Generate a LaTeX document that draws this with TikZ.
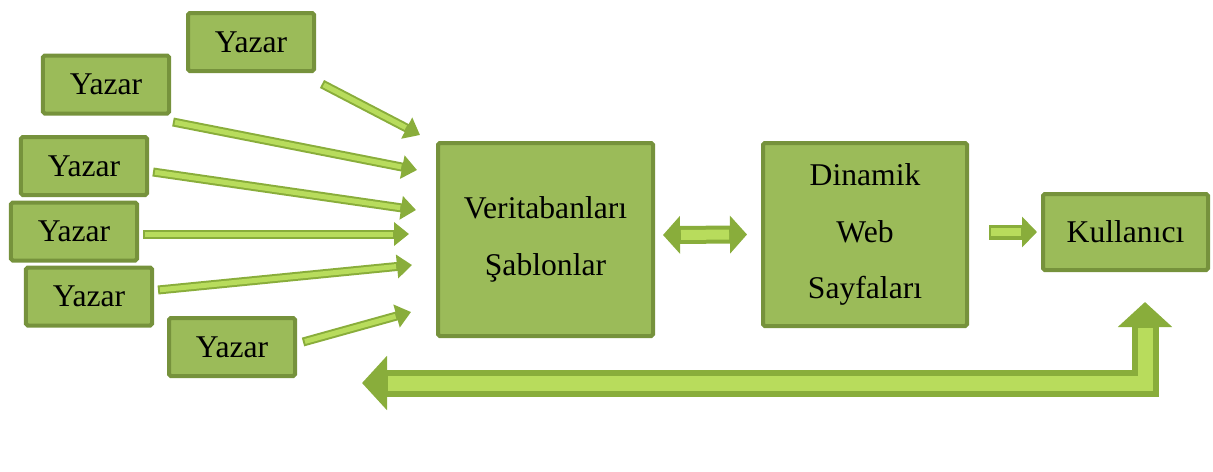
\documentclass[tikz,border=0pt]{standalone}
\usepackage{fontspec}
\setmainfont{Liberation Serif}
\usetikzlibrary{arrows.meta}
\definecolor{boxfill}{HTML}{9BBB59}
\definecolor{boxline}{HTML}{76923C}
\definecolor{arrdark}{HTML}{89AD3B}
\definecolor{arrlight}{HTML}{B8DC5C}

\begin{document}
\begin{tikzpicture}[
    x=0.2mm, y=-0.2mm,
    every node/.style={font=\fontsize{18}{32}\selectfont},
    yazar/.style={draw=boxline,line width=0.8mm,fill=boxfill,rounded corners=1pt,minimum width=25.2mm,minimum height=11.6mm,inner sep=0pt},
    bigbox/.style={draw=boxline,line width=0.8mm,fill=boxfill,rounded corners=1pt,align=center,inner sep=0pt},
    thinarr/.style={draw=arrdark,line width=1.8mm,-{Triangle[length=3mm,width=4.6mm]},
        postaction={draw=arrlight,line width=1mm,-,shorten >=3.2mm,shorten <=0.4mm}},
    dblarr/.style={draw=arrdark,line width=3.6mm,{Triangle[length=3.4mm,width=7.4mm]}-{Triangle[length=3.4mm,width=7.4mm]},
        postaction={draw=arrlight,line width=2mm,-,shorten >=3.6mm,shorten <=3.6mm}},
    userarr/.style={draw=arrdark,line width=3mm,-{Triangle[length=3mm,width=6mm]},
        postaction={draw=arrlight,line width=1.7mm,-,shorten >=3.2mm,shorten <=0.4mm}},
    backarr/.style={draw=arrdark,line width=5.4mm,line join=miter,{Triangle[length=5mm,width=10.6mm]}-{Triangle[length=5mm,width=10.6mm]},
        postaction={draw=arrlight,line width=3mm,line join=miter,-,shorten >=5.2mm,shorten <=5.2mm}},
]
\useasboundingbox (0,0) rectangle (1213,471);

% authors
\node[yazar] (y1) at (251,42)    {Yazar};
\node[yazar] (y2) at (106,84.5)  {Yazar};
\node[yazar] (y3) at (84,166)    {Yazar};
\node[yazar] (y4) at (74,231.5)  {Yazar};
\node[yazar] (y5) at (89,296.5)  {Yazar};
\node[yazar] (y6) at (232,347)   {Yazar};

% main boxes
\node[bigbox,minimum width=43mm,minimum height=38.6mm] (db) at (545.5,239.5) {Veritabanları\\Şablonlar};
\node[bigbox,minimum width=40.8mm,minimum height=36.6mm] (web) at (865,234.5) {Dinamik\\Web\\Sayfaları};
\node[bigbox,minimum width=33mm,minimum height=15.2mm] (user) at (1125.5,232) {Kullanıcı};

% arrow ends
\coordinate (s1) at (322,84);   \coordinate (t1) at (420,135);
\coordinate (s2) at (173,122);  \coordinate (t2) at (417,170);
\coordinate (s3) at (153,172);  \coordinate (t3) at (416,210);
\coordinate (s4) at (143,234);  \coordinate (t4) at (409,234);
\coordinate (s5) at (158,290);  \coordinate (t5) at (412,265);
\coordinate (s6) at (303,342);  \coordinate (t6) at (411,312);
\coordinate (up) at (1145,302);
\coordinate (fb) at (362,383);

\foreach \i in {1,...,6}
    \draw[thinarr] (s\i) -- (t\i);

\draw[dblarr] (db.east) ++(1.6mm,-4.5) -- ([xshift=-2.8mm]web.west);
\draw[userarr] ([xshift=4mm]web.east |- user.west) -- ([xshift=-0.8mm]user.west);
\draw[backarr] (up) |- (fb);
\end{tikzpicture}
\end{document}
